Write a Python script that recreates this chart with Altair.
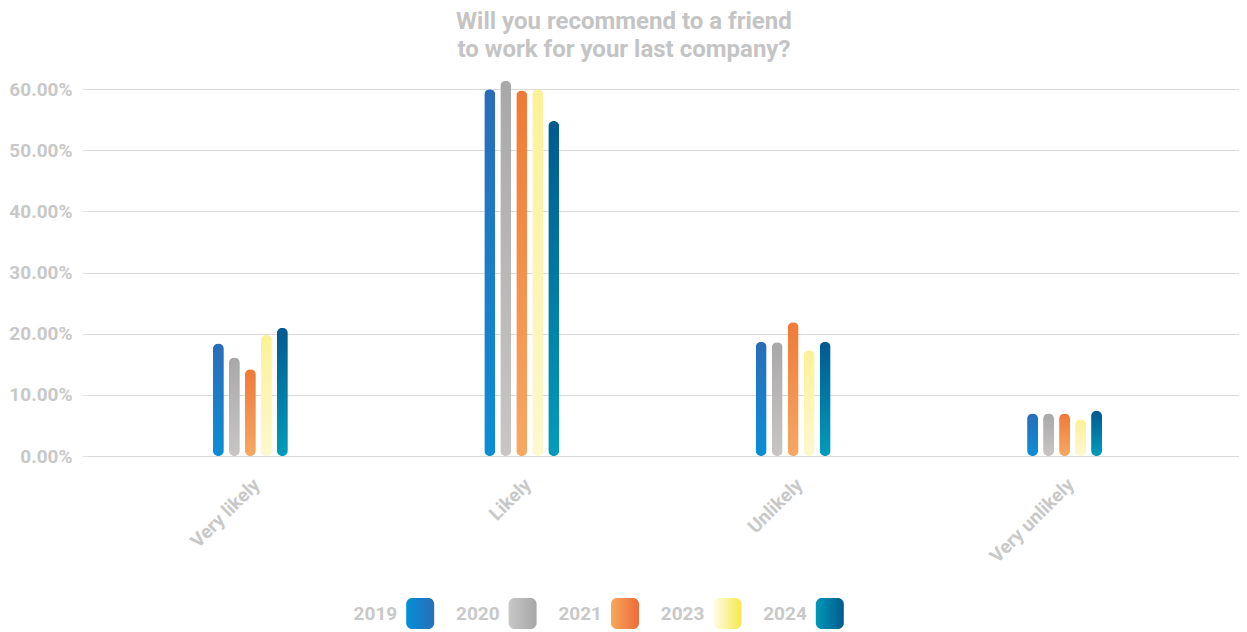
import altair as alt
import pandas as pd

# ---- data ----
categories = ["Very likely", "Likely", "Unlikely", "Very unlikely"]
years = ["2019", "2020", "2021", "2023", "2024"]
v2019 = [0.184, 0.600, 0.187, 0.0695]
v2020 = [0.161, 0.614, 0.186, 0.0695]
v2021 = [0.142, 0.598, 0.219, 0.0695]
v2023 = [0.198, 0.600, 0.173, 0.060]
v2024 = [0.210, 0.548, 0.187, 0.074]
y_ticks = [0.0, 0.1, 0.2, 0.3, 0.4, 0.5, 0.6]
title_lines = ["Will you recommend to a friend", "to work for your last company?"]

# ---- styles ----
bar_top = ["#2a6db9", "#a9a8a8", "#ef7a38", "#fcf197", "#005a8f"]
bar_bottom = ["#0a8ed6", "#c9c5c5", "#f6a862", "#fdf8cf", "#009cbb"]
legend_left = ["#0091d6", "#c8c8c8", "#f7a85a", "#fffdea", "#0098b8"]
legend_right = ["#2b6db8", "#a6a6a6", "#ee6a3a", "#f7e84a", "#005a8e"]
TEXT = "#c8c8c8"
FONT = "Roboto"

series = [v2019, v2020, v2021, v2023, v2024]
rows = []
for yr, vals in zip(years, series):
    for c, v in zip(categories, vals):
        rows.append({"category": c, "year": yr, "value": v})
df = pd.DataFrame(rows)
legend_df = pd.DataFrame({"year": years})


def grad(c_from, c_to, vertical=True):
    if vertical:
        return alt.LinearGradient(
            gradient="linear", x1=0, y1=1, x2=0, y2=0,
            stops=[alt.GradientStop(offset=0, color=c_from),
                   alt.GradientStop(offset=1, color=c_to)])
    return alt.LinearGradient(
        gradient="linear", x1=0, y1=0, x2=1, y2=0,
        stops=[alt.GradientStop(offset=0, color=c_from),
               alt.GradientStop(offset=1, color=c_to)])


x_enc = alt.X(
    "category:N", sort=categories, title=None,
    scale=alt.Scale(paddingInner=0.7237, paddingOuter=0.4842, align=0.479),
    axis=alt.Axis(labelAngle=-45, ticks=False, domain=False, grid=False,
                  labelFontSize=19, labelFontWeight="bold", labelColor=TEXT,
                  labelFont=FONT, labelPadding=19),
)
y_enc = alt.Y(
    "value:Q", title=None,
    scale=alt.Scale(domain=[0, 0.62], nice=False),
    axis=alt.Axis(values=y_ticks, format=".2%", domain=False, tickSize=5,
                  tickColor="#e3e3e3", gridColor="#dadada", gridWidth=1.2,
                  labelFontSize=19, labelFontWeight="bold", labelColor=TEXT,
                  labelFont=FONT, labelPadding=10),
)
xo_enc = alt.XOffset("year:N", scale=alt.Scale(domain=years, paddingInner=0.3125, paddingOuter=0))

layers = []
for i, yr in enumerate(years):
    layers.append(
        alt.Chart(df)
        .transform_filter(alt.datum.year == yr)
        .mark_bar(color=grad(bar_bottom[i], bar_top[i]), cornerRadius=5.5)
        .encode(x=x_enc, xOffset=xo_enc, y=y_enc)
    )
main = alt.layer(*layers).properties(width=1152, height=379)

lx = alt.X("year:N", sort=years, title=None, axis=None,
           scale=alt.Scale(paddingInner=0, paddingOuter=0, range=[263, 775]))
leg_layers = [
    alt.Chart(legend_df).mark_text(align="right", baseline="middle", dx=-4,
                                   fontSize=19, fontWeight="bold", color=TEXT, font=FONT)
    .encode(x=lx, text="year:N")
]
for i, yr in enumerate(years):
    leg_layers.append(
        alt.Chart(legend_df)
        .transform_filter(alt.datum.year == yr)
        .mark_bar(width=28, xOffset=19, cornerRadius=6,
                  color=grad(legend_left[i], legend_right[i], vertical=False))
        .encode(x=lx)
    )
legend = alt.layer(*leg_layers).properties(width=1152, height=31)

chart = (
    alt.vconcat(main, legend, spacing=31)
    .properties(
        title=alt.Title(title_lines, anchor="middle", fontSize=24, fontWeight="bold",
                        color="#c4c4c4", font=FONT, lineHeight=28, offset=15),
        padding={"left": 0, "top": 2, "right": 0, "bottom": 0},
    )
    .configure(font=FONT)
    .configure_view(stroke="transparent", strokeWidth=0)
)

chart.save("out.html", embed_options={"renderer": "svg", "actions": False})
